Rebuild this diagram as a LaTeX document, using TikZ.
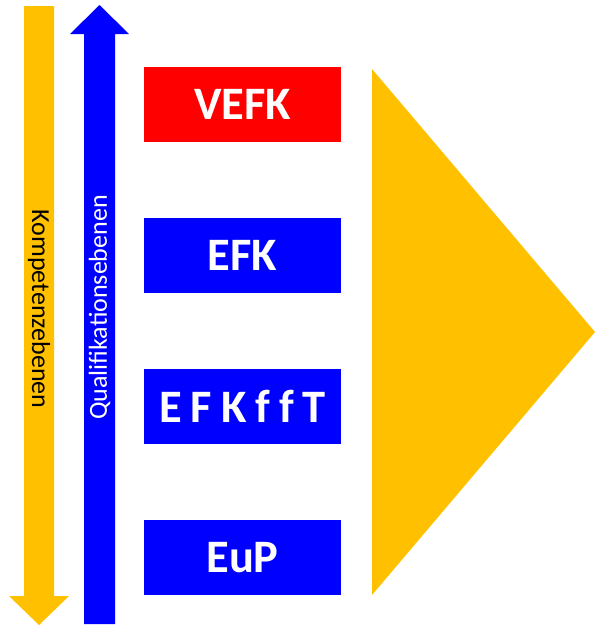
\documentclass[tikz,border=0pt]{standalone}
\usepackage{fontspec}
\setmainfont{Carlito}
\definecolor{myorange}{HTML}{FFC000}
\definecolor{myblue}{HTML}{0000FF}
\definecolor{myred}{HTML}{FF0000}
\newcommand{\lsp}{\hspace{9pt}}
\begin{document}
\begin{tikzpicture}[x=1pt,y=-1pt,
  levelbox/.style={minimum width=197pt,minimum height=75pt,inner sep=0pt,
    text=white,font=\fontsize{46.5}{50}\selectfont\bfseries},
  sidelabel/.style={inner sep=0pt,font=\fontsize{26}{30}\selectfont}]
\useasboundingbox (0,0) rectangle (595,625);
% orange arrow (downwards)
\fill[myorange] (24,6) -- (54,6) -- (54,596) -- (69,596) -- (39,625) -- (9,596) -- (24,596) -- cycle;
% blue arrow (upwards)
\fill[myblue] (84,624) -- (115,624) -- (115,34) -- (129,34) -- (99.5,5) -- (70,34) -- (84,34) -- cycle;
% big triangle
\fill[myorange] (372,69) -- (595,332) -- (372,595) -- cycle;
% labels
\node[sidelabel,rotate=-90,text=black] (komp) at (39,309) {Kompetenzebenen};
\node[sidelabel,rotate=90,text=white] (qual) at (99.5,307.5) {Qualifikationsebenen};
% boxes
\node[levelbox,fill=myred] (vefk) at (242.5,104.5) {\raisebox{-2pt}{VEFK}};
\node[levelbox,fill=myblue] (efk) at (242.5,255.5) {\raisebox{-2pt}{EFK}};
\node[levelbox,fill=myblue] (efkfft) at (242.5,406.5) {\raisebox{-2pt}{E\lsp F\lsp K\lsp f\lsp f\lsp T}};
\node[levelbox,fill=myblue] (eup) at (242.5,557.5) {\raisebox{-2pt}{EuP}};
\end{tikzpicture}
\end{document}
